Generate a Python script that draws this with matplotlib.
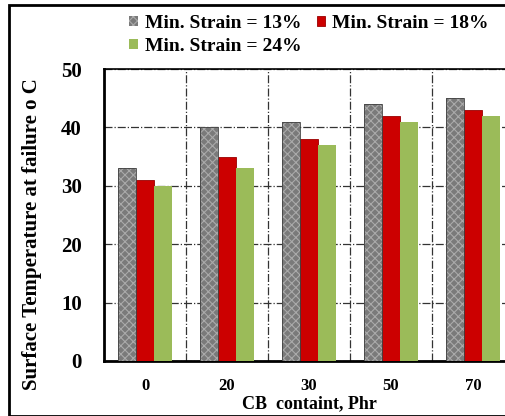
import numpy as np
import matplotlib.pyplot as plt
from matplotlib.patches import Rectangle

plt.rcParams['font.family'] = ['Liberation Serif', 'DejaVu Serif']
plt.rcParams['font.weight'] = 'bold'
plt.rcParams['axes.labelweight'] = 'bold'
plt.rcParams['hatch.linewidth'] = 0.8

# Data
categories = ['0', '20', '30', '50', '70']
strain_13 = [33, 40, 41, 44, 45]
strain_18 = [31, 35, 38, 42, 43]
strain_24 = [30, 33, 37, 41, 42]
labels = ['Min. Strain = 13%', 'Min. Strain = 18%', 'Min. Strain = 24%']

fig = plt.figure(figsize=(5.05, 4.16), dpi=100)
# axes runs off the right edge like in the reference crop
ax = fig.add_axes([104 / 505, 55 / 416, 410 / 505, 292 / 416])

x = np.arange(len(categories))
w = 0.22
b1 = ax.bar(x - w, strain_13, w, color='#7a7a7a', edgecolor='#aaaaaa', hatch='xxxx',
            linewidth=0, label=labels[0], zorder=3)
b2 = ax.bar(x, strain_18, w, color='#cc0000', edgecolor='#990000', linewidth=0.6,
            label=labels[1], zorder=3)
b3 = ax.bar(x + w, strain_24, w, color='#9bbb59', linewidth=0, label=labels[2], zorder=3)
# thin dark outline on the patterned bars
ax.bar(x - w, strain_13, w, fill=False, edgecolor='#404040', linewidth=0.6, zorder=4)

ax.set_xlim(-0.5, len(categories) - 0.5)
ax.set_ylim(0, 50)
ax.set_xticks(x)
ax.set_xticklabels(categories, fontsize=12)
ax.set_yticks(np.arange(0, 51, 10))
ax.tick_params(axis='y', labelsize=15, length=0, pad=16)
ax.tick_params(axis='x', length=0, pad=12)

# dash-dot grid between groups and at y ticks
ax.set_xticks(np.arange(0.5, len(categories) - 0.5, 1), minor=True)
ax.tick_params(axis='x', which='minor', length=0)
ax.grid(True, which='minor', axis='x', color='#333333', linestyle='-.', linewidth=0.9, zorder=0)
ax.grid(True, which='major', axis='y', color='#333333', linestyle='-.', linewidth=0.9, zorder=0)

for s in ['left', 'bottom']:
    ax.spines[s].set_linewidth(2)
ax.spines['top'].set_linewidth(1.2)

ax.set_xlabel('CB  containt, Phr', fontsize=13, labelpad=1)
fig.text(32 / 505, 1 - 234 / 416, 'Surface Temperature at failure o C', rotation=90,
         fontsize=15, fontweight='bold', ha='center', va='center')

# row-wise legend order: 13%, 18% / 24%
fig.legend([b1, b3, b2], [labels[0], labels[2], labels[1]], loc='upper left',
           bbox_to_anchor=(129 / 505, 1 - 15 / 416), ncol=2, frameon=False,
           fontsize=14, handlelength=0.45, handleheight=0.45, handletextpad=0.35,
           columnspacing=0.8, labelspacing=0.3, borderaxespad=0, borderpad=0)

# outer frame of the figure
fig.patches.append(Rectangle((9 / 505, 0), 1.0, 1 - 5 / 416, transform=fig.transFigure,
                             fill=False, edgecolor='black', linewidth=2))

fig.savefig('out.png', dpi=100)
